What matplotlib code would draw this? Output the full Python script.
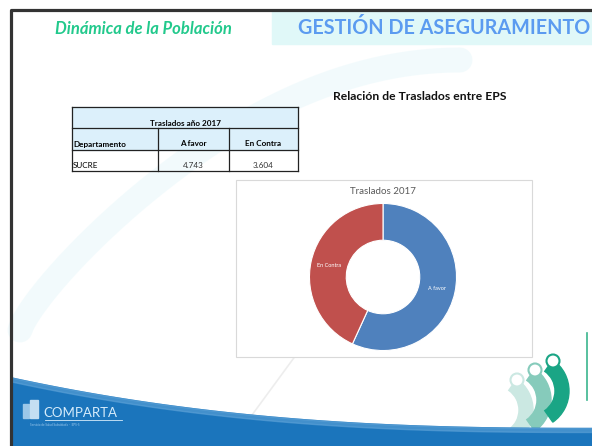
"""Diapositiva: traslados entre EPS, Sucre 2017 (dona + tabla)."""
import matplotlib

matplotlib.use("Agg")
import matplotlib.pyplot as plt
import numpy as np
from matplotlib.patches import Rectangle, Circle, Wedge

plt.rcParams["font.family"] = ["Lato", "DejaVu Sans"]

# datos
categorias = ["A favor", "En Contra"]
traslados = [4743, 3604]
departamento = "SUCRE"
tabla_titulo = "Traslados año 2017"
tabla_cols = ["Departamento", "A favor", "En Contra"]
colores = ["#4f81bd", "#c0504d"]

W, H = 592, 446
fig = plt.figure(figsize=(W / 100, H / 100), dpi=100)

# fondo de la diapositiva en coordenadas de pixel
bg = fig.add_axes([0, 0, 1, 1])
bg.set_xlim(0, W)
bg.set_ylim(H, 0)
bg.axis("off")

# trazos decorativos suaves
t = np.linspace(0, 1, 200)
bg.plot(20 + 440 * t, 330 - 270 * np.sin(t * np.pi / 2) ** 0.8, color="#e4f6fa",
        lw=18, alpha=0.45, solid_capstyle="round", zorder=0.2)
bg.plot(230 + 110 * t, 445 - 150 * t, color="#e6e6e6", lw=1.2, alpha=0.7,
        zorder=0.5)

# marco
bg.plot([11, 11, W], [H, 9.5, 9.5], color="#333333", lw=2.3,
        solid_capstyle="butt", zorder=4)

# encabezado
bg.add_patch(Rectangle((272, 11), W - 272, 33, color="#e0f8f8", zorder=1))
bg.text(55, 29, "Dinámica de la Población", color="#22c98c", fontsize=12,
        fontweight="bold", fontstyle="italic", va="center", ha="left")
bg.text(590, 28, "GESTIÓN DE ASEGURAMIENTO", color="#5b9bf0", fontsize=14.2,
        fontweight="bold", va="center", ha="right", zorder=2)
bg.text(420, 96, "Relación de Traslados entre EPS", fontsize=8.7,
        fontweight="bold", va="center", ha="center", color="#111111")

# tabla
x0, x1, x2, x3 = 72, 158, 229, 298
y0, y1, y2, y3 = 107, 128, 150, 171
bg.add_patch(Rectangle((x0, y0), x3 - x0, y2 - y0, color="#dcf0fb", zorder=1))
lw = 0.9
for y in (y0, y1, y2, y3):
    bg.plot([x0, x3], [y, y], color="#222222", lw=lw)
for x in (x0, x3):
    bg.plot([x, x], [y0, y3], color="#222222", lw=lw)
for x in (x1, x2):
    bg.plot([x, x], [y1, y3], color="#222222", lw=lw)
fs = 5.9
bg.text((x0 + x3) / 2, 123, tabla_titulo, fontsize=fs, fontweight="bold",
        ha="center", va="center")
bg.text(x0 + 1, 144, tabla_cols[0], fontsize=fs, fontweight="bold", va="center")
bg.text((x1 + x2) / 2, 144, tabla_cols[1], fontsize=fs, fontweight="bold",
        ha="center", va="center")
bg.text((x2 + x3) / 2, 144, tabla_cols[2], fontsize=fs, fontweight="bold",
        ha="center", va="center")
bg.text(x0 + 1, 165, departamento, fontsize=fs, va="center")
for xc, v in zip(((x1 + x2) / 2, (x2 + x3) / 2), traslados):
    bg.text(xc, 165, f"{v:,}".replace(",", "."), fontsize=fs,
            ha="center", va="center", color="#333333")

# marco del grafico
bg.add_patch(Rectangle((236, 180), 296, 177, facecolor="white",
                       edgecolor="#d9d9d9", lw=0.8, zorder=1))
bg.text(383, 192, "Traslados 2017", fontsize=7, color="#595959",
        ha="center", va="center", zorder=2)

# pie de pagina
xs = np.linspace(12, W, 200)
ytop = 375 + 53 * (1 - (1 - xs / W) ** 2.5)
bg.fill_between(xs, ytop, H, color="#1b75bc", zorder=1)
bg.fill_between(xs, ytop, ytop + 4, color="#5fa3d8", zorder=1, alpha=0.6)
bg.text(43, 413, "COMPARTA", fontsize=9.5, color="#d6ecfb", va="center",
        ha="left", zorder=3)
bg.plot([45, 122], [420, 420], color="#d6ecfb", lw=0.6, zorder=3)
bg.text(30, 425, "Servicio de Salud Subsidiada  ·  EPS-S", fontsize=2.2,
        color="#9fcbee", va="center", zorder=3)
bg.add_patch(Rectangle((23, 404), 6, 14, color="#9cc7e8", zorder=3))
bg.add_patch(Rectangle((30, 400), 8, 18, color="#c4def2", zorder=3))

# figuras del logo (derecha)
for (hx, hy), col in zip(((517, 380), (535, 370), (553, 361)),
                         ("#cbe8e2", "#86cbbb", "#1aa585")):
    bg.add_patch(Wedge((hx - 22, hy + 30), 38, -55, 55, width=14,
                       color=col, zorder=0.8))
    bg.add_patch(Circle((hx, hy), 6.5, facecolor="white", edgecolor=col,
                        lw=1.5, zorder=0.9))
bg.plot([587, 587], [333, 400], color="#3bb58e", lw=1.2)

# dona
ax = fig.add_axes([308 / W, (H - 277 - 75) / H, 150 / W, 150 / H])
wedges, texts = ax.pie(traslados, labels=categorias, colors=colores,
                       startangle=90, counterclock=False, radius=1,
                       labeldistance=0.75,
                       wedgeprops=dict(width=0.5, edgecolor="white", lw=0.8),
                       textprops=dict(color="white", fontsize=4))
for tx in texts:
    tx.set_ha("center")
    tx.set_va("center")
ax.set_xlim(-1.02, 1.02)
ax.set_ylim(-1.02, 1.02)
ax.set_aspect("equal")
ax.axis("off")

fig.savefig("out.png", dpi=100)
plt.close(fig)
